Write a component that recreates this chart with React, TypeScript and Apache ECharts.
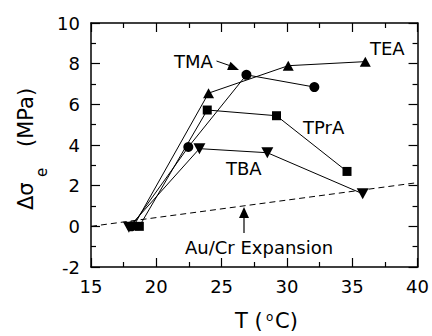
import React, { useEffect, useRef } from "react";
import * as echarts from "echarts";

const xTicks = [15, 20, 25, 30, 35, 40];
const yTicks = [-2, 0, 2, 4, 6, 8, 10];

const TMA: [number, number][] = [[18.1, 0], [22.45, 3.9], [26.9, 7.45], [32.1, 6.85]];
const TEA: [number, number][] = [[18.3, 0.05], [24.0, 6.55], [30.1, 7.9], [36.0, 8.1]];
const TPrA: [number, number][] = [[18.7, 0], [23.9, 5.72], [29.2, 5.44], [34.6, 2.7]];
const TBA: [number, number][] = [[17.9, -0.05], [23.3, 3.82], [28.5, 3.62], [35.8, 1.6]];
const expansion: [number, number][] = [[15, 0], [40, 2.15]];

const FONT = "DejaVu Sans";

function arrowHead(tip: [number, number], from: [number, number], len: number, half: number) {
  const dx = tip[0] - from[0];
  const dy = tip[1] - from[1];
  const l = Math.hypot(dx, dy);
  const ux = dx / l, uy = dy / l;
  const bx = tip[0] - ux * len, by = tip[1] - uy * len;
  const px = -uy * half, py = ux * half;
  return [tip, [bx + px, by + py], [bx - px, by - py]];
}

export default function App() {
  const ref = useRef<HTMLDivElement>(null);
  useEffect(() => {
    if (!ref.current) return;
    const chart = echarts.init(ref.current, undefined, { renderer: "svg" });
    const axisCommon = {
      min: xTicks[0],
      max: xTicks[xTicks.length - 1],
      interval: 5,
      type: "value" as const,
      axisLine: { show: true, onZero: false, lineStyle: { color: "#000", width: 1.5 } },
      axisTick: { show: true, inside: true, length: 9, lineStyle: { color: "#000", width: 1.2 } },
      minorTick: { show: true, splitNumber: 2, length: 5, lineStyle: { color: "#000", width: 1.2 } },
      splitLine: { show: false },
    };
    const yCommon = {
      min: yTicks[0],
      max: yTicks[yTicks.length - 1],
      interval: 2,
      type: "value" as const,
      axisLine: { show: true, onZero: false, lineStyle: { color: "#000", width: 1.5 } },
      axisTick: { show: true, inside: true, length: 9, lineStyle: { color: "#000", width: 1.2 } },
      minorTick: { show: true, splitNumber: 2, length: 5, lineStyle: { color: "#000", width: 1.2 } },
      splitLine: { show: false },
    };
    const seriesLine = (name: string, data: [number, number][], symbol: string, size: any, rotate = 0) => ({
      name,
      type: "line",
      data,
      symbol,
      symbolSize: size,
      symbolRotate: rotate,
      showAllSymbol: true,
      lineStyle: { color: "#000", width: 1 },
      itemStyle: { color: "#000" },
      z: 3,
    });
    const txt = (text: string, x: number, y: number, size = 18, align = "left") => ({
      type: "text",
      x,
      y,
      style: { text, fontSize: size, fontFamily: FONT, fill: "#000", align, verticalAlign: "middle" },
    });
    const tmaFrom: [number, number] = [216.5, 61];
    const tmaTip: [number, number] = [239, 70];
    const auFrom: [number, number] = [244, 233];
    const auTip: [number, number] = [244, 207];
    chart.setOption({
      animation: false,
      grid: { left: 91, right: 14, top: 23, bottom: 69 },
      xAxis: [
        { ...axisCommon, position: "bottom", axisLabel: { show: true, margin: 10, color: "#000", fontSize: 18, fontFamily: FONT } },
        { ...axisCommon, position: "top", axisLabel: { show: false } },
      ],
      yAxis: [
        { ...yCommon, position: "left", axisLabel: { show: true, margin: 11, color: "#000", fontSize: 18, fontFamily: FONT } },
        { ...yCommon, position: "right", axisLabel: { show: false } },
      ],
      series: [
        {
          type: "line",
          data: expansion,
          symbol: "none",
          lineStyle: { color: "#000", width: 1, type: [6, 4] },
          z: 2,
        },
        seriesLine("TMA", TMA, "circle", 10),
        seriesLine("TEA", TEA, "triangle", [11, 10]),
        seriesLine("TPrA", TPrA, "rect", 9),
        seriesLine("TBA", TBA, "triangle", [12, 11], 180),
      ],
      graphic: [
        txt("TMA", 174, 61),
        txt("TEA", 370, 48),
        txt("TPrA", 303, 127),
        txt("TBA", 226, 168),
        txt("Au/Cr Expansion", 185, 247),
        { type: "line", shape: { x1: tmaFrom[0], y1: tmaFrom[1], x2: 230, y2: 65.7 }, style: { stroke: "#000", lineWidth: 1 } },
        { type: "polygon", shape: { points: arrowHead(tmaTip, tmaFrom, 11, 4.5) }, style: { fill: "#000" } },
        { type: "line", shape: { x1: auFrom[0], y1: auFrom[1], x2: auTip[0], y2: 217 }, style: { stroke: "#000", lineWidth: 1.2 } },
        { type: "polygon", shape: { points: arrowHead(auTip, auFrom, 11, 5) }, style: { fill: "#000" } },
        // x axis name
        txt("T (", 235, 321, 21),
        txt("o", 266, 317, 12),
        txt("C)", 275, 321, 21),
        // y axis name (rotated)
        {
          type: "group",
          x: 0,
          y: 210,
          rotation: Math.PI / 2,
          children: [
            { type: "text", x: 0, y: 26, style: { text: "Δσ", fontSize: 21, fontFamily: FONT, fill: "#000", align: "left", verticalAlign: "middle" } },
            { type: "text", x: 33, y: 42, style: { text: "e", fontSize: 15, fontFamily: FONT, fill: "#000", align: "left", verticalAlign: "middle" } },
            { type: "text", x: 63, y: 26, style: { text: "(MPa)", fontSize: 21, fontFamily: FONT, fill: "#000", align: "left", verticalAlign: "middle" } },
          ],
        },
      ],
    });
    return () => chart.dispose();
  }, []);
  return <div ref={ref} style={{ position: "fixed", left: 0, top: 0, width: 432, height: 336, background: "#fff" }} />;
}
